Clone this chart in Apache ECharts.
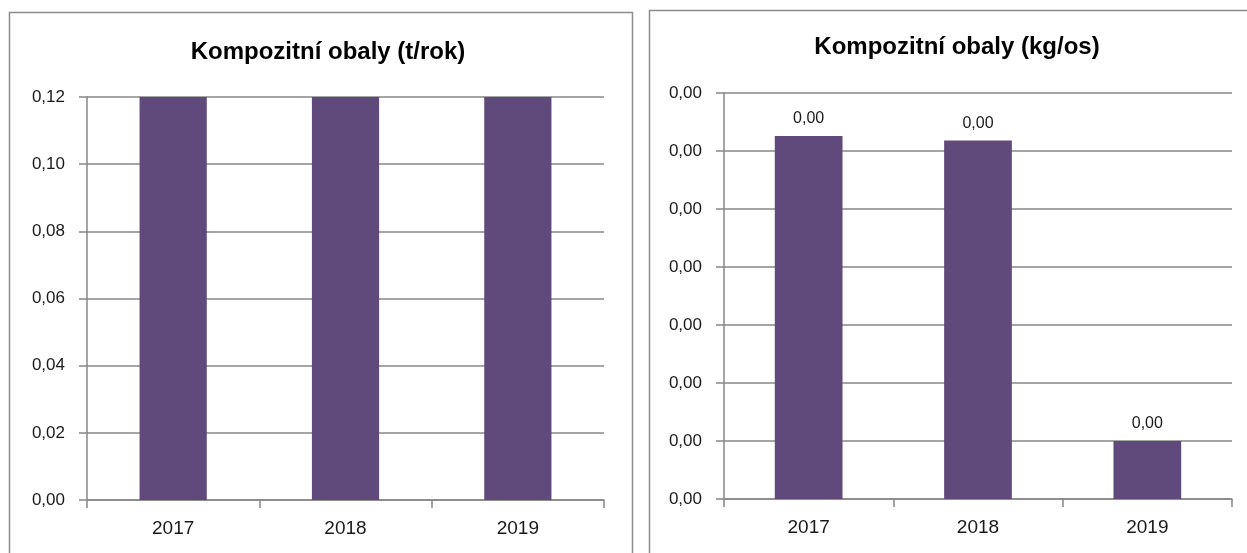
<!DOCTYPE html>
<html>
<head>
<meta charset="utf-8">
<script src="https://cdn.jsdelivr.net/npm/echarts@6/dist/echarts.min.js"></script>
<style>
html,body{margin:0;padding:0;background:#fff;}
#chart{width:1247px;height:553px;}
</style>
</head>
<body>
<div id="chart"></div>
<script>
var roky=['2017','2018','2019'];
var tunyRok=[0.12,0.12,0.12];
var kgNaOsobu=[0.00313,0.00309,0.0005];

var font="'Liberation Sans', Arial, sans-serif";
var textColor='#1a1a1a';
var lineColor='#878787';
var barColor='#604a7b';

function carka(v){
    return v.toFixed(2).replace('.',',');
}

var mychart=echarts.init(document.getElementById('chart'));

function osaX(i){
    return {
        type:'category',
        gridIndex:i,
        data:roky,
        axisLine:{lineStyle:{color:lineColor,width:1.5}},
        axisTick:{show:true,length:8,lineStyle:{color:lineColor,width:1.5}},
        axisLabel:{color:textColor,fontFamily:font,fontSize:19,margin:19}
    };
}
function osaY(i,max,step){
    return {
        type:'value',
        gridIndex:i,
        min:0,
        max:max,
        interval:step,
        axisLine:{show:true,lineStyle:{color:lineColor,width:1.5}},
        axisTick:{show:true,length:8,lineStyle:{color:lineColor,width:1.5}},
        axisLabel:{color:textColor,fontFamily:font,fontSize:17,margin:22,formatter:carka},
        splitLine:{lineStyle:{color:lineColor,width:1.5}}
    };
}

option={
    backgroundColor:'#fff',
    animation:false,
    title:[
        {
            text:'Kompozitní obaly (t/rok)',
            left:323,
            top:35,
            textAlign:'center',
            textStyle:{fontFamily:font,fontSize:24,fontWeight:'bold',color:'#000'}
        },
        {
            text:'Kompozitní obaly (kg/os)',
            left:952,
            top:30,
            textAlign:'center',
            textStyle:{fontFamily:font,fontSize:24,fontWeight:'bold',color:'#000'}
        }
    ],
    graphic:[
        {type:'rect',shape:{x:9.5,y:12.5,width:623,height:600},style:{fill:null,stroke:'#8c8c8c',lineWidth:1.5},silent:true},
        {type:'rect',shape:{x:649.5,y:10.5,width:650,height:600},style:{fill:null,stroke:'#8c8c8c',lineWidth:1.5},silent:true}
    ],
    grid:[
        {left:87,right:643,top:97,bottom:53},
        {left:724,right:15,top:93,bottom:54}
    ],
    xAxis:[osaX(0),osaX(1)],
    yAxis:[osaY(0,0.12,0.02),osaY(1,0.0035,0.0005)],
    series:[
        {
            name:'Kompozitní obaly (t/rok)',
            type:'bar',
            xAxisIndex:0,
            yAxisIndex:0,
            data:tunyRok,
            barWidth:'39%',
            itemStyle:{color:barColor}
        },
        {
            name:'Kompozitní obaly (kg/os)',
            type:'bar',
            xAxisIndex:1,
            yAxisIndex:1,
            data:kgNaOsobu,
            barWidth:'40%',
            itemStyle:{color:barColor},
            label:{
                show:true,
                position:'top',
                distance:9,
                color:textColor,
                fontFamily:font,
                fontSize:16,
                formatter:function(p){return carka(p.value);}
            }
        }
    ]
};
mychart.setOption(option);
</script>
</body>
</html>
